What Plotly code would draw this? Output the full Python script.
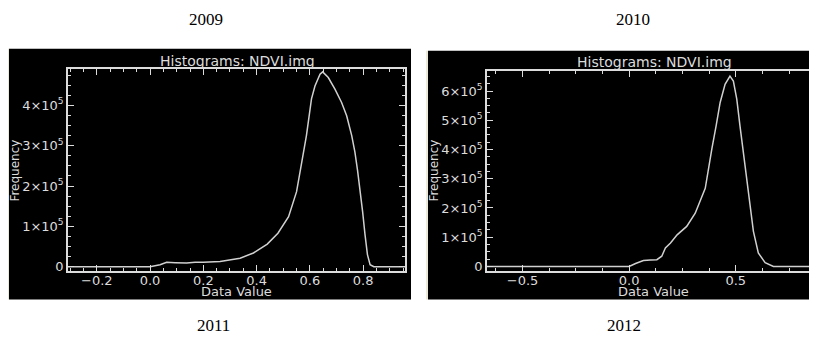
import plotly.graph_objects as go

W, H = 817, 347
OFF = 8  # page body margin compensation
SCALE = 1e5

# 2009 histogram (frequency in units of 1e5)
x2009 = [-0.308, 0.0, 0.0375, 0.0625, 0.094, 0.137, 0.169, 0.2, 0.263, 0.338, 0.388, 0.44, 0.48,
         0.52, 0.55, 0.563, 0.587, 0.606, 0.619, 0.638, 0.648, 0.669, 0.694, 0.719, 0.738,
         0.757, 0.769, 0.779, 0.788, 0.798, 0.807, 0.816, 0.826, 0.84, 0.957]
f2009 = [0, 0, 0.05, 0.11, 0.10, 0.09, 0.11, 0.11, 0.13, 0.21, 0.34, 0.56, 0.83,
         1.24, 1.86, 2.35, 3.25, 4.16, 4.48, 4.77, 4.83, 4.69, 4.40, 4.07, 3.74,
         3.25, 2.84, 2.38, 1.94, 1.36, 0.79, 0.30, 0.05, 0, 0]

# 2010 histogram
x2010 = [-0.667, 0.0, 0.03, 0.067, 0.10, 0.13, 0.153, 0.17, 0.194, 0.225, 0.27, 0.31, 0.357,
         0.366, 0.388, 0.408, 0.427, 0.45, 0.473, 0.489, 0.505, 0.52, 0.536, 0.548, 0.567,
         0.583, 0.606, 0.638, 0.677, 0.872]
f2010 = [0, 0, 0.10, 0.20, 0.22, 0.23, 0.35, 0.63, 0.80, 1.08, 1.37, 1.82, 2.67,
         3.10, 4.02, 4.81, 5.61, 6.23, 6.51, 6.34, 5.72, 4.81, 3.91, 3.12, 2.22,
         1.20, 0.46, 0.13, 0, 0]

x_ticks_1 = [-0.2, 0.0, 0.2, 0.4, 0.6, 0.8]
x_labels_1 = ["\u22120.2", "0.0", "0.2", "0.4", "0.6", "0.8"]
x_ticks_2 = [-0.5, 0.0, 0.5]
x_labels_2 = ["\u22120.5", "0.0", "0.5"]
y_ticks_1 = [0, 1, 2, 3, 4]
y_ticks_2 = [0, 1, 2, 3, 4, 5, 6]
years = ["2009", "2010", "2011", "2012"]
panel_title = "Histograms: NDVI.img"
x_title = "Data Value"
y_title = "Frequency"


def ylab(v):
    return "0" if v == 0 else f"{v}\u00d710<sup>5</sup>"


def px(x):
    return (x - OFF) / W


def py(y):
    return 1 - (y - OFF) / H


FG = "#dcdcdc"
CURVE = "#d0d0d0"
TICKFONT = dict(family="DejaVu Sans", size=13, color=FG)

fig = go.Figure()
fig.add_trace(go.Scatter(x=x2009, y=[v * SCALE for v in f2009], mode="lines",
                         line=dict(color=CURVE, width=1.5), xaxis="x", yaxis="y",
                         showlegend=False, hoverinfo="skip"))
fig.add_trace(go.Scatter(x=x2010, y=[v * SCALE for v in f2010], mode="lines",
                         line=dict(color=CURVE, width=1.5), xaxis="x2", yaxis="y2",
                         showlegend=False, hoverinfo="skip"))

common = dict(showgrid=False, zeroline=False, showline=True, linecolor=FG, linewidth=1.5,
              mirror="allticks", ticks="inside", ticklen=6, tickwidth=1, tickcolor=FG,
              tickfont=TICKFONT)

fig.update_layout(
    width=W, height=H,
    margin=dict(l=0, r=0, t=0, b=0),
    paper_bgcolor="white", plot_bgcolor="rgba(0,0,0,0)",
    xaxis=dict(domain=[px(68), px(405)], range=[-0.308, 0.957], anchor="y",
               tickvals=x_ticks_1, ticktext=x_labels_1, ticklabelstandoff=-3,
               minor=dict(dtick=0.05, tick0=0, ticks="inside", ticklen=3, tickcolor=FG),
               **common),
    yaxis=dict(domain=[py(273), py(70)], range=[-0.1 * SCALE, 4.89 * SCALE], anchor="x",
               tickvals=[v * SCALE for v in y_ticks_1], ticktext=[ylab(v) for v in y_ticks_1],
               minor=dict(dtick=0.25 * SCALE, tick0=0, ticks="inside", ticklen=3, tickcolor=FG),
               **common),
    xaxis2=dict(domain=[px(487), px(815)], range=[-0.667, 0.872], anchor="y2",
                tickvals=x_ticks_2, ticktext=x_labels_2, ticklabelstandoff=-3,
                minor=dict(dtick=0.125, tick0=0, ticks="inside", ticklen=3, tickcolor=FG),
                **common),
    yaxis2=dict(domain=[py(273), py(72)], range=[-0.146 * SCALE, 6.67 * SCALE], anchor="x2",
                tickvals=[v * SCALE for v in y_ticks_2], ticktext=[ylab(v) for v in y_ticks_2],
                minor=dict(dtick=0.25 * SCALE, tick0=0, ticks="inside", ticklen=3, tickcolor=FG),
                **common),
)

shapes = [
    dict(type="rect", xref="paper", yref="paper", x0=px(7), x1=px(9), y0=py(302), y1=py(49),
         fillcolor="#ece9d8", line=dict(width=0), layer="below"),
    dict(type="rect", xref="paper", yref="paper", x0=px(9), x1=px(411), y0=py(302), y1=py(49),
         fillcolor="black", line=dict(width=0), layer="below"),
    dict(type="rect", xref="paper", yref="paper", x0=px(426), x1=px(428), y0=py(302), y1=py(51),
         fillcolor="#ece9d8", line=dict(width=0), layer="below"),
    dict(type="rect", xref="paper", yref="paper", x0=px(428), x1=px(817), y0=py(302), y1=py(51),
         fillcolor="black", line=dict(width=0), layer="below"),
]
fig.update_layout(shapes=shapes)

ann = []
for cx, cy in [(237, 61), (654, 62)]:
    ann.append(dict(x=px(cx), y=py(cy), xref="paper", yref="paper", text=panel_title,
                    showarrow=False, xanchor="center", yanchor="middle",
                    font=dict(family="DejaVu Sans", size=14, color=FG)))
for cx, cy in [(236, 294), (653, 294)]:
    ann.append(dict(x=px(cx), y=py(cy), xref="paper", yref="paper", text=x_title,
                    showarrow=False, xanchor="center", yanchor="middle",
                    font=dict(family="DejaVu Sans", size=13, color=FG)))
for cx, cy in [(15, 172), (434, 172)]:
    ann.append(dict(x=px(cx), y=py(cy), xref="paper", yref="paper", text=y_title,
                    showarrow=False, xanchor="center", yanchor="middle", textangle=-90,
                    font=dict(family="DejaVu Sans", size=12, color=FG)))
for t, (cx, cy) in zip(years, [(206, 20), (633, 20), (213, 328), (624, 328)]):
    ann.append(dict(x=px(cx), y=py(cy), xref="paper", yref="paper", text=t,
                    showarrow=False, xanchor="center", yanchor="middle",
                    font=dict(family="Liberation Serif", size=17, color="black")))
fig.update_layout(annotations=ann)

fig.write_html("out.html")
